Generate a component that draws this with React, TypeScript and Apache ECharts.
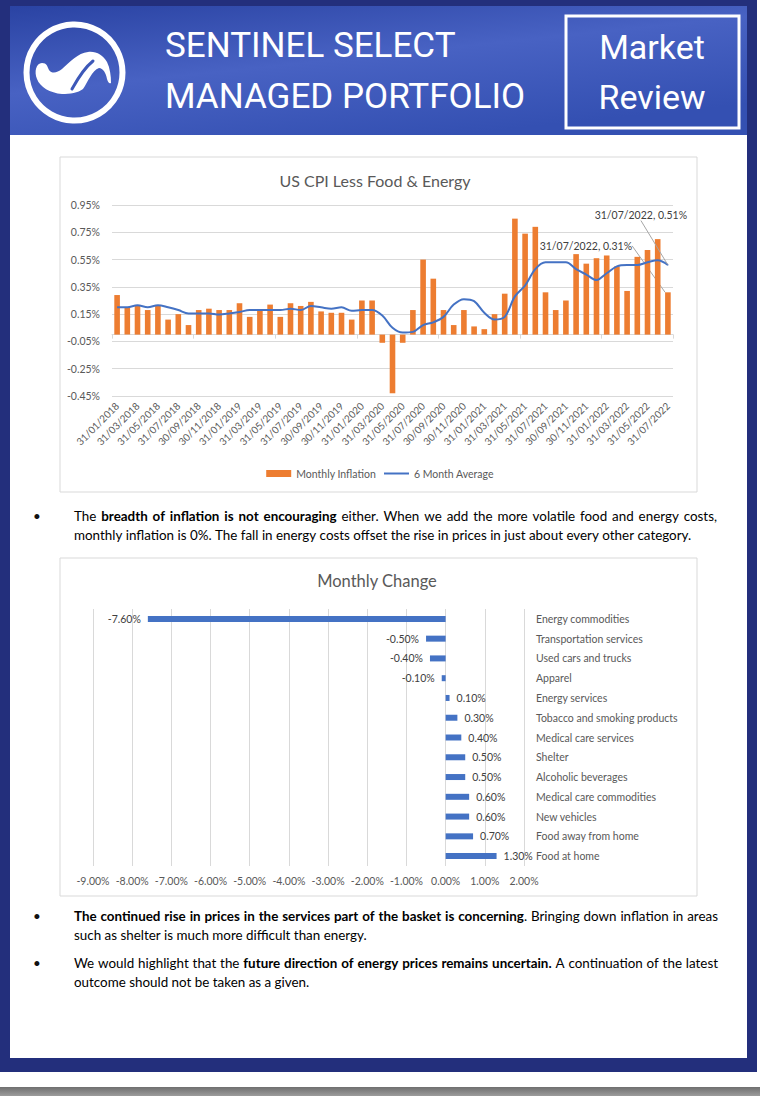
import React, { useEffect, useRef } from "react";
import * as echarts from "echarts";

// ---------- DATA ----------
const months = [
  "31/01/2018", "28/02/2018", "31/03/2018", "30/04/2018", "31/05/2018", "30/06/2018",
  "31/07/2018", "31/08/2018", "30/09/2018", "31/10/2018", "30/11/2018", "31/12/2018",
  "31/01/2019", "28/02/2019", "31/03/2019", "30/04/2019", "31/05/2019", "30/06/2019",
  "31/07/2019", "31/08/2019", "30/09/2019", "31/10/2019", "30/11/2019", "31/12/2019",
  "31/01/2020", "29/02/2020", "31/03/2020", "30/04/2020", "31/05/2020", "30/06/2020",
  "31/07/2020", "31/08/2020", "30/09/2020", "31/10/2020", "30/11/2020", "31/12/2020",
  "31/01/2021", "28/02/2021", "31/03/2021", "30/04/2021", "31/05/2021", "30/06/2021",
  "31/07/2021", "31/08/2021", "30/09/2021", "31/10/2021", "30/11/2021", "31/12/2021",
  "31/01/2022", "28/02/2022", "31/03/2022", "30/04/2022", "31/05/2022", "30/06/2022",
  "31/07/2022",
];

const monthlyInflation = [
  0.29, 0.2, 0.21, 0.18, 0.21, 0.11, 0.15, 0.07, 0.18, 0.19, 0.18, 0.18,
  0.23, 0.13, 0.18, 0.22, 0.13, 0.23, 0.21, 0.24, 0.17, 0.16, 0.16, 0.11,
  0.25, 0.25, -0.06, -0.43, -0.06, 0.18, 0.55, 0.41, 0.18, 0.07, 0.18, 0.06,
  0.04, 0.15, 0.3, 0.85, 0.74, 0.79, 0.31, 0.18, 0.25, 0.59, 0.52, 0.56,
  0.58, 0.5, 0.32, 0.57, 0.62, 0.7, 0.31,
];

const sixMonthAverage = [
  0.2, 0.2, 0.215, 0.2, 0.215, 0.2, 0.18, 0.155, 0.155, 0.155, 0.147, 0.155,
  0.166, 0.18, 0.18, 0.18, 0.18, 0.19, 0.18, 0.21, 0.2, 0.19, 0.2, 0.175,
  0.18, 0.18, 0.14, 0.05, 0.015, 0.02, 0.07, 0.09, 0.13, 0.22, 0.26, 0.245,
  0.16, 0.11, 0.13, 0.28, 0.36, 0.48, 0.53, 0.53, 0.53, 0.48, 0.44, 0.4,
  0.45, 0.5, 0.51, 0.51, 0.53, 0.545, 0.51,
];

const changeCategories = [
  "Energy commodities",
  "Transportation services",
  "Used cars and trucks",
  "Apparel",
  "Energy services",
  "Tobacco and smoking products",
  "Medical care services",
  "Shelter",
  "Alcoholic beverages",
  "Medical care commodities",
  "New vehicles",
  "Food away from home",
  "Food at home",
];

const monthlyChange = [-7.6, -0.5, -0.4, -0.1, 0.1, 0.3, 0.4, 0.5, 0.5, 0.6, 0.6, 0.7, 1.3];

// ---------- TEXT ----------
type Seg = { t: string; b?: boolean };
type Line = { y: number; bullet: boolean; justify: number; segs: Seg[] };

const bulletLines: Line[] = [
  { y: 516, bullet: true, justify: 643, segs: [{ t: "The " }, { t: "breadth of inflation is not encouraging", b: true }, { t: " either. When we add the more volatile food and energy costs," }] },
  { y: 535, bullet: false, justify: 0, segs: [{ t: "monthly inflation is 0%. The fall in energy costs offset the rise in prices in just about every other category." }] },
  { y: 916, bullet: true, justify: 644, segs: [{ t: "The continued rise in prices in the services part of the basket is concerning", b: true }, { t: ". Bringing down inflation in areas" }] },
  { y: 935, bullet: false, justify: 0, segs: [{ t: "such as shelter is much more difficult than energy." }] },
  { y: 963, bullet: true, justify: 644, segs: [{ t: "We would highlight that the " }, { t: "future direction of energy prices remains uncertain.", b: true }, { t: " A continuation of the latest" }] },
  { y: 982, bullet: false, justify: 0, segs: [{ t: "outcome should not be taken as a given." }] },
];

// ---------- STYLE ----------
const NAVY = "#232f7c";
const ORANGE = "#ED7D31";
const BLUE = "#4472C4";
const GRID = "#D9D9D9";
const AXIS_TEXT = "#595959";
const CF = "Lato, 'Liberation Sans', sans-serif";
const HF = "Roboto, 'Liberation Sans', sans-serif";
const TS = 13.4;

const LOGO_PATH =
  "M 42 63 C 36 63 34 72 37 79 C 40 87 50 93 62 94 C 70 94 78 93 83 89 " +
  "C 88 82 92 70 99 68 C 103 68 106 73 107 79 C 108 82 109 84 111 83 " +
  "C 111 76 110 68 107 62 C 103 55 96 51 88 52 C 78 53 70 62 62 69 " +
  "C 57 73 52 74 49 70 C 47 66 47 63 42 63 Z";

function measure(ctx: CanvasRenderingContext2D | null, t: string, bold: boolean): number {
  if (!ctx) return t.length * TS * 0.5;
  ctx.font = `${bold ? "bold" : "normal"} ${TS}px ${CF}`;
  return ctx.measureText(t).width;
}

function buildLineText(line: Line, idx: number, ctx: CanvasRenderingContext2D | null) {
  const words: Seg[][] = [[]];
  line.segs.forEach((s) => {
    s.t.split(" ").forEach((p, i) => {
      if (i > 0) words.push([]);
      if (p) words[words.length - 1].push({ t: p, b: s.b });
    });
  });
  const ws = words.filter((w) => w.length > 0);
  const spName = `sp${idx}`;
  const wordStr = (w: Seg[]) => w.map((p) => `{${p.b ? "b" : "r"}|${p.t}}`).join("");
  const text = ws.map(wordStr).join(`{${spName}| }`);
  let gap = measure(ctx, " ", false);
  if (line.justify > 0 && ws.length > 1) {
    const total = ws.reduce((acc, w) => acc + w.reduce((a, p) => a + measure(ctx, p.t, !!p.b), 0), 0);
    gap = Math.max(gap, (line.justify - total) / (ws.length - 1));
  }
  return { text, spName, gap };
}

function buildOption(): any {
  const last = monthlyInflation.length - 1;
  let ctx: CanvasRenderingContext2D | null = null;
  try {
    ctx = document.createElement("canvas").getContext("2d");
  } catch (e) {
    ctx = null;
  }

  const graphics: any[] = [
    // frame
    { type: "rect", z: -5, shape: { x: 0, y: 1087, width: 760, height: 9 }, style: { fill: new echarts.graphic.LinearGradient(0, 0, 0, 1, [{ offset: 0, color: "#6f6f6f" }, { offset: 1, color: "#9c9c9c" }]) } },
    { type: "rect", z: -5, shape: { x: 0, y: 0, width: 757, height: 1072 }, style: { fill: NAVY } },
    { type: "rect", z: -5, shape: { x: 10, y: 135, width: 737, height: 923 }, style: { fill: "#ffffff" } },
    {
      type: "rect", z: -5, shape: { x: 10, y: 6, width: 737, height: 129 },
      style: {
        fill: new echarts.graphic.LinearGradient(0, 0, 0.6, 1, [
          { offset: 0, color: "#2a43a3" },
          { offset: 0.5, color: "#4862c3" },
          { offset: 1, color: "#3450b2" },
        ]),
      },
    },
    // logo
    { type: "circle", z: -4, shape: { cx: 74.5, cy: 72.5, r: 48 }, style: { fill: "none", stroke: "#ffffff", lineWidth: 6 } },
    { type: "logo", z: -4, x: 0, y: 0, style: { fill: "#ffffff" } },
    { type: "bezierCurve", z: -4, shape: { x1: 72, y1: 89, x2: 93, y2: 61, cpx1: 77, cpy1: 80, cpx2: 83, cpy2: 69 }, style: { stroke: "#3d58b8", lineWidth: 3, fill: "none", lineCap: "round" } },
    // header texts
    { type: "text", z: -4, x: 165, y: 45, style: { text: "SENTINEL SELECT", fill: "#ffffff", font: `400 35px ${HF}`, align: "left", verticalAlign: "middle" } },
    { type: "text", z: -4, x: 165, y: 96, style: { text: "MANAGED PORTFOLIO", fill: "#ffffff", font: `400 35px ${HF}`, align: "left", verticalAlign: "middle" } },
    { type: "rect", z: -4, shape: { x: 566, y: 16, width: 173, height: 112 }, style: { fill: "none", stroke: "#ffffff", lineWidth: 3 } },
    { type: "text", z: -4, x: 652, y: 47, style: { text: "Market", fill: "#ffffff", font: `400 34px ${HF}`, align: "center", verticalAlign: "middle" } },
    { type: "text", z: -4, x: 652, y: 97, style: { text: "Review", fill: "#ffffff", font: `400 34px ${HF}`, align: "center", verticalAlign: "middle" } },
    // chart boxes
    { type: "rect", z: -4, shape: { x: 60, y: 157, width: 637, height: 335 }, style: { fill: "#ffffff", stroke: GRID, lineWidth: 1 } },
    { type: "rect", z: -4, shape: { x: 60, y: 558, width: 637, height: 338 }, style: { fill: "#ffffff", stroke: GRID, lineWidth: 1 } },
    { type: "text", z: -3, x: 375, y: 180, style: { text: "US CPI Less Food & Energy", fill: AXIS_TEXT, font: `400 16px ${CF}`, align: "center", verticalAlign: "middle" } },
    { type: "text", z: -3, x: 377, y: 581, style: { text: "Monthly Change", fill: AXIS_TEXT, font: `400 16.5px ${CF}`, align: "center", verticalAlign: "middle" } },
  ];

  bulletLines.forEach((l, idx) => {
    if (l.bullet) {
      graphics.push({ type: "text", z: -3, x: 37, y: l.y, style: { text: "•", fill: "#111", font: `400 ${TS}px ${CF}`, align: "center", verticalAlign: "middle" } });
    }
    const built = buildLineText(l, idx, ctx);
    const rich: any = {
      r: { fontFamily: CF, fontSize: TS, color: "#111" },
      b: { fontFamily: CF, fontSize: TS, color: "#111", fontWeight: "bold" },
    };
    rich[built.spName] = { fontFamily: CF, fontSize: TS, color: "#111", width: built.gap };
    graphics.push({ type: "text", z: -3, x: 74, y: l.y, style: { text: built.text, rich, align: "left", verticalAlign: "middle" } });
  });

  const pct2 = (v: number) => `${v.toFixed(2)}%`;

  return {
    animation: false,
    graphic: { elements: graphics },
    legend: {
      data: [
        { name: "Monthly Inflation", icon: "rect" },
        { name: "6 Month Average", icon: "path://M0,0 L25,0 L25,2 L0,2 Z" },
      ],
      left: "center",
      top: 463,
      itemWidth: 25,
      itemHeight: 7,
      itemGap: 8,
      textStyle: { fontFamily: CF, fontSize: 10.5, color: AXIS_TEXT },
    },
    grid: [
      { left: 112, top: 205, width: 561, height: 191 },
      { left: 93, top: 609, width: 431, height: 257 },
    ],
    xAxis: [
      {
        gridIndex: 0, type: "category", data: months, position: "bottom",
        axisLine: { show: false, onZero: false }, axisTick: { show: false },
        axisLabel: { interval: 1, rotate: 45, margin: 8, fontFamily: CF, fontSize: 10, color: AXIS_TEXT },
      },
      {
        gridIndex: 0, type: "category", data: months, position: "top",
        axisLine: { show: true, onZero: true, lineStyle: { color: GRID, width: 1 } },
        axisTick: { show: true, inside: true, length: 4, lineStyle: { color: GRID } },
        axisLabel: { show: false },
      },
      {
        gridIndex: 1, type: "value", min: -9, max: 2, interval: 1,
        axisLine: { show: false }, axisTick: { show: false },
        splitLine: { show: true, lineStyle: { color: GRID } },
        axisLabel: { formatter: (v: number) => pct2(v), margin: 9, fontFamily: CF, fontSize: 10.5, color: AXIS_TEXT },
      },
    ],
    yAxis: [
      {
        gridIndex: 0, type: "value", min: -0.45, max: 0.95, interval: 0.2,
        axisLine: { show: false }, axisTick: { show: false },
        splitLine: { show: true, lineStyle: { color: GRID } },
        axisLabel: { formatter: (v: number) => pct2(v), margin: 12, fontFamily: CF, fontSize: 10.5, color: AXIS_TEXT },
      },
      {
        gridIndex: 1, type: "category", data: changeCategories, inverse: true, position: "right",
        axisLine: { show: false }, axisTick: { show: false }, splitLine: { show: false },
        axisLabel: { align: "left", margin: 12, fontFamily: CF, fontSize: 10.5, color: AXIS_TEXT },
      },
    ],
    series: [
      {
        name: "Monthly Inflation",
        type: "bar",
        xAxisIndex: 0,
        yAxisIndex: 0,
        barWidth: "55%",
        itemStyle: { color: ORANGE },
        data: monthlyInflation.map((v, i) =>
          i === last
            ? {
                value: v,
                label: {
                  show: true,
                  position: "top",
                  formatter: (p: any) => `${p.name}, ${pct2(p.value)}`,
                  fontFamily: CF,
                  fontSize: 10.5,
                  color: "#404040",
                },
              }
            : v
        ),
        labelLayout: (p: any) => (p.dataIndex === last ? { dx: -82, dy: -36 } : {}),
        labelLine: { show: true, lineStyle: { color: "#A6A6A6", width: 1 } },
      },
      {
        name: "6 Month Average",
        type: "line",
        xAxisIndex: 0,
        yAxisIndex: 0,
        smooth: 0.35,
        symbol: "none",
        showAllSymbol: true,
        lineStyle: { color: BLUE, width: 2 },
        itemStyle: { color: BLUE },
        data: sixMonthAverage.map((v, i) =>
          i === last
            ? {
                value: v,
                symbol: "circle",
                symbolSize: 1,
                label: {
                  show: true,
                  position: "top",
                  formatter: (p: any) => `${p.name}, ${pct2(p.value)}`,
                  fontFamily: CF,
                  fontSize: 10.5,
                  color: "#404040",
                },
              }
            : v
        ),
        labelLayout: (p: any) => (p.dataIndex === last ? { dx: -27, dy: -39 } : {}),
        labelLine: { show: true, lineStyle: { color: "#A6A6A6", width: 1 } },
      },
      {
        type: "bar",
        xAxisIndex: 2,
        yAxisIndex: 1,
        barWidth: 6,
        itemStyle: { color: BLUE },
        label: {
          show: true,
          distance: 7,
          formatter: (p: any) => pct2(p.value),
          fontFamily: CF,
          fontSize: 10.5,
          color: "#404040",
        },
        data: monthlyChange.map((v) => ({ value: v, label: { position: v < 0 ? "left" : "right" } })),
      },
    ],
  };
}

export default function App() {
  const ref = useRef<HTMLDivElement>(null);
  useEffect(() => {
    if (!ref.current) return;
    echarts.graphic.registerShape("logo", echarts.graphic.extendPath(LOGO_PATH, {}));
    const chart = echarts.init(ref.current, undefined, { renderer: "svg" });
    chart.setOption(buildOption());
    return () => chart.dispose();
  }, []);
  return (
    <div
      ref={ref}
      style={{ position: "absolute", left: 0, top: 0, width: 760, height: 1096, background: "#ffffff" }}
    />
  );
}
